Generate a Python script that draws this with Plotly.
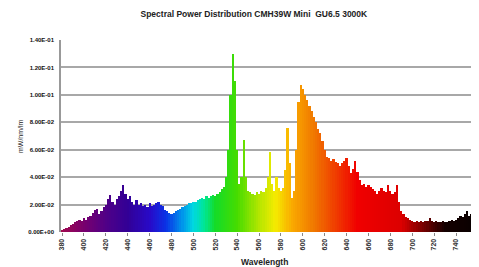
import plotly.graph_objects as go

# ---- data ----
wavelengths = list(range(380, 761, 2))
spd = [
    0.001, 0.002, 0.003, 0.004, 0.005, 0.006, 0.007, 0.008, 0.009, 0.008,  # 380-398
    0.010, 0.009, 0.011, 0.012, 0.014, 0.016, 0.017, 0.013, 0.015, 0.018,  # 400-418
    0.020, 0.024, 0.027, 0.022, 0.020, 0.024, 0.026, 0.030, 0.034, 0.028,  # 420-438
    0.024, 0.026, 0.022, 0.020, 0.023, 0.020, 0.021, 0.019, 0.020, 0.018,  # 440-458
    0.021, 0.019, 0.020, 0.021, 0.022, 0.020, 0.019, 0.016, 0.015, 0.014,  # 460-478
    0.013, 0.014, 0.015, 0.016, 0.017, 0.018, 0.019, 0.020, 0.021, 0.021,  # 480-498
    0.022, 0.022, 0.023, 0.024, 0.025, 0.024, 0.026, 0.025, 0.026, 0.027,  # 500-518
    0.026, 0.028, 0.029, 0.031, 0.033, 0.040, 0.060, 0.100, 0.130, 0.110,  # 520-538
    0.060, 0.035, 0.040, 0.067, 0.040, 0.030, 0.029, 0.028, 0.027, 0.029,  # 540-558
    0.028, 0.030, 0.029, 0.032, 0.040, 0.058, 0.035, 0.030, 0.040, 0.032,  # 560-578
    0.030, 0.032, 0.045, 0.076, 0.050, 0.025, 0.030, 0.060, 0.095, 0.107,  # 580-598
    0.104, 0.100, 0.096, 0.092, 0.088, 0.084, 0.080, 0.075, 0.072, 0.066,  # 600-618
    0.060, 0.055, 0.054, 0.052, 0.053, 0.051, 0.050, 0.048, 0.050, 0.052,  # 620-638
    0.054, 0.048, 0.043, 0.046, 0.052, 0.044, 0.038, 0.034, 0.035, 0.033,  # 640-658
    0.034, 0.033, 0.031, 0.030, 0.028, 0.030, 0.032, 0.030, 0.029, 0.034,  # 660-678
    0.030, 0.028, 0.029, 0.034, 0.022, 0.015, 0.013, 0.011, 0.010, 0.009,  # 680-698
    0.008, 0.007, 0.008, 0.007, 0.008, 0.007, 0.008, 0.008, 0.010, 0.008,  # 700-718
    0.007, 0.008, 0.007, 0.007, 0.008, 0.007, 0.007, 0.008, 0.009, 0.008,  # 720-738
    0.009, 0.010, 0.012, 0.011, 0.013, 0.015, 0.012, 0.013, 0.012, 0.014,  # 740-758
    0.013,                                                                  # 760
]
y_tick_values = [0.0, 0.02, 0.04, 0.06, 0.08, 0.10, 0.12, 0.14]
y_tick_labels = ["0.00E+00", "2.00E-02", "4.00E-02", "6.00E-02",
                 "8.00E-02", "1.00E-01", "1.20E-01", "1.40E-01"]
x_tick_values = list(range(380, 761, 20))

# ---- colour styling: spectrum gradient stops ----
stop_nm = [380, 400, 420, 440, 460, 475, 490, 500, 510, 520, 540, 560, 575, 590, 610, 630, 650, 690, 710, 730, 780]
stop_rgb = [(160, 10, 80), (120, 0, 110), (80, 0, 135), (50, 0, 150), (40, 10, 200), (10, 50, 230),
            (0, 150, 235), (0, 215, 225), (0, 230, 150), (20, 220, 40), (70, 220, 0), (180, 230, 0),
            (245, 235, 0), (250, 170, 0), (240, 120, 0), (240, 60, 0), (240, 0, 0), (220, 0, 0),
            (120, 0, 0), (20, 0, 0), (0, 0, 0)]


def spectrum_color(w):
    for i in range(len(stop_nm) - 1):
        if stop_nm[i] <= w <= stop_nm[i + 1]:
            t = (w - stop_nm[i]) / (stop_nm[i + 1] - stop_nm[i])
            a, b = stop_rgb[i], stop_rgb[i + 1]
            c = [round(a[k] + (b[k] - a[k]) * t) for k in range(3)]
            return f"rgb({c[0]},{c[1]},{c[2]})"
    return "rgb(0,0,0)"


colors = [spectrum_color(w) for w in wavelengths]

fig = go.Figure(go.Bar(
    x=wavelengths, y=spd, width=2.05,
    marker=dict(color=colors, line=dict(width=0)),
    hoverinfo="x+y",
))

# page body has an 8px default margin, so the figure is sized/offset for that
fig.update_layout(
    width=471, height=259,
    margin=dict(l=53, r=0, t=32, b=35, autoexpand=False),
    paper_bgcolor="white", plot_bgcolor="white",
    bargap=0, showlegend=False,
    font=dict(family="Liberation Sans, Arial, sans-serif", color="#222"),
    title=dict(text="<b>Spectral Power Distribution CMH39W Mini  GU6.5 3000K</b>",
               x=0.522, xanchor="center", y=0.977, yanchor="middle",
               font=dict(size=8.5, color="#222")),
    annotations=[
        dict(text="<b>Wavelength</b>", x=0.486, y=-0.156, xref="paper", yref="paper",
             xanchor="center", yanchor="middle", showarrow=False,
             font=dict(size=8.5, color="#222")),
        dict(text="mW/nm/lm", x=-0.098, y=0.5, xref="paper", yref="paper",
             xanchor="center", yanchor="middle", showarrow=False, textangle=-90,
             font=dict(size=7, color="#222")),
    ],
)
fig.update_xaxes(
    range=[379, 761], tickvals=x_tick_values, ticktext=[f"<b>{v}</b>" for v in x_tick_values],
    tickangle=-90, tickfont=dict(size=7, color="#333"),
    ticks="outside", ticklen=3, tickcolor="#888",
    showgrid=False, showline=False, zeroline=False, automargin=False,
)
fig.update_yaxes(
    range=[0, 0.14], tickvals=y_tick_values, ticktext=[f"<b>{t}</b>" for t in y_tick_labels],
    tickfont=dict(size=6, color="#111"),
    showgrid=True, gridcolor="#a8a8a8", gridwidth=1.5,
    showline=True, linecolor="#999", linewidth=1.5,
    zeroline=False, ticks="", ticklabelstandoff=4, automargin=False,
)

fig.write_html("out.html")
